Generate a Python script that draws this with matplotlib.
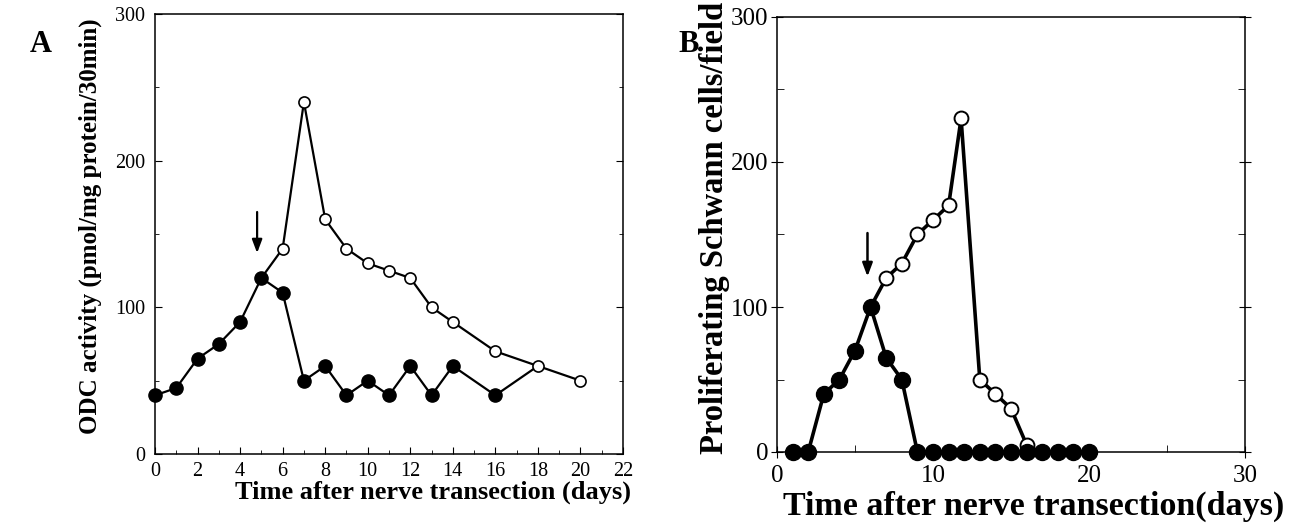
"""Two-panel figure: ODC activity (A) and proliferating Schwann cells (B) after nerve transection."""
import matplotlib
matplotlib.use("Agg")
import matplotlib.pyplot as plt
from matplotlib.ticker import MultipleLocator

plt.rcParams["font.family"] = ["Liberation Serif", "DejaVu Serif"]

# Panel A: ODC activity
a_days_filled = [0, 1, 2, 3, 4, 5, 6, 7, 8, 9, 10, 11, 12, 13, 14, 16]
a_odc_filled = [40, 45, 65, 75, 90, 120, 110, 50, 60, 40, 50, 40, 60, 40, 60, 40]
a_days_open = [6, 7, 8, 9, 10, 11, 12, 13, 14, 16, 18, 20]
a_odc_open = [140, 240, 160, 140, 130, 125, 120, 100, 90, 70, 60, 50]
a_arrow = (4.8, 165, 137)

# Panel B: proliferating Schwann cells
b_days_filled = [1, 2, 3, 4, 5, 6, 7, 8, 9, 10, 11, 12, 13, 14, 15, 16, 17, 18, 19, 20]
b_cells_filled = [0, 0, 40, 50, 70, 100, 65, 50, 0, 0, 0, 0, 0, 0, 0, 0, 0, 0, 0, 0]
b_days_open = [7, 8, 9, 10, 11, 11.8, 13, 14, 15, 16]
b_cells_open = [120, 130, 150, 160, 170, 230, 50, 40, 30, 5]
b_arrow = (5.8, 151, 121)

W, H = 1299, 524
fig = plt.figure(figsize=(W / 100, H / 100), dpi=100)
ax_a = fig.add_axes([155 / W, 1 - 454 / H, (623 - 155) / W, (454 - 14) / H])
ax_b = fig.add_axes([777 / W, 1 - 452 / H, (1245 - 777) / W, (452 - 17) / H])


def draw_arrow(ax, arrow, lw):
    x, y0, y1 = arrow
    ax.annotate("", xy=(x, y1), xytext=(x, y0),
                arrowprops=dict(arrowstyle="-|>,head_length=0.8,head_width=0.3",
                                color="black", lw=lw, shrinkA=0, shrinkB=0))


# ---- A ----
ax = ax_a
# open line starts from the filled point at day 5, filled line ends on the open point at day 18
ax.plot([a_days_filled[5]] + a_days_open, [a_odc_filled[5]] + a_odc_open,
        color="black", lw=1.6, zorder=2, clip_on=False)
ax.plot(a_days_filled + [a_days_open[-2]], a_odc_filled + [a_odc_open[-2]],
        color="black", lw=1.6, zorder=2, clip_on=False)
ax.plot(a_days_open, a_odc_open, "o", ms=8, mfc="white", mec="black", mew=1.2,
        zorder=3, clip_on=False)
ax.plot(a_days_filled, a_odc_filled, "o", ms=9.5, color="black", zorder=4, clip_on=False)
draw_arrow(ax, a_arrow, 1.6)
ax.set_xlim(0, 22)
ax.set_ylim(0, 300)
ax.xaxis.set_major_locator(MultipleLocator(2))
ax.xaxis.set_minor_locator(MultipleLocator(1))
ax.yaxis.set_major_locator(MultipleLocator(100))
ax.yaxis.set_minor_locator(MultipleLocator(50))
ax.tick_params(which="both", direction="in", right=True, labelsize=14.5)
ax.tick_params(axis="x", pad=6)
ax.tick_params(axis="y", pad=7)
ax.tick_params(which="major", length=5)
ax.tick_params(which="minor", length=3)
ax.set_xlabel("Time after nerve transection (days)", fontsize=19, fontweight="bold")
ax.xaxis.set_label_coords(0.594, -0.061)
ax.set_ylabel("ODC activity (pmol/mg protein/30min)", fontsize=18, fontweight="bold")
ax.yaxis.set_label_coords(-0.113, 0.518)
for s in ax.spines.values():
    s.set_linewidth(1.1)
fig.text(30 / W, 1 - 45 / H, "A", fontsize=22, fontweight="bold", va="center")

# ---- B ----
ax = ax_b
ax.plot(b_days_filled, b_cells_filled, color="black", lw=2.6, zorder=2, clip_on=False)
ax.plot([b_days_filled[5]] + b_days_open, [b_cells_filled[5]] + b_cells_open,
        color="black", lw=2.6, zorder=2, clip_on=False)
ax.plot(b_days_open, b_cells_open, "o", ms=10, mfc="white", mec="black", mew=1.4,
        zorder=3, clip_on=False)
ax.plot(b_days_filled, b_cells_filled, "o", ms=11.5, color="black", zorder=4, clip_on=False)
draw_arrow(ax, b_arrow, 1.8)
ax.set_xlim(0, 30)
ax.set_ylim(0, 300)
ax.xaxis.set_major_locator(MultipleLocator(10))
ax.xaxis.set_minor_locator(MultipleLocator(5))
ax.yaxis.set_major_locator(MultipleLocator(100))
ax.yaxis.set_minor_locator(MultipleLocator(50))
ax.tick_params(which="both", right=True, labelsize=18)
ax.tick_params(which="major", direction="inout", length=8)
ax.tick_params(which="minor", direction="in", length=5)
ax.tick_params(axis="x", pad=5)
ax.tick_params(axis="y", pad=2)
ax.set_xlabel("Time after nerve transection(days)", fontsize=24.5, fontweight="bold")
ax.xaxis.set_label_coords(0.549, -0.088)
ax.set_ylabel("Proliferating Schwann cells/field", fontsize=23.5, fontweight="bold")
ax.yaxis.set_label_coords(-0.100, 0.515)
for s in ax.spines.values():
    s.set_linewidth(1.1)
fig.text(678 / W, 1 - 45 / H, "B", fontsize=22, fontweight="bold", va="center")

fig.savefig("out.png", dpi=100)
